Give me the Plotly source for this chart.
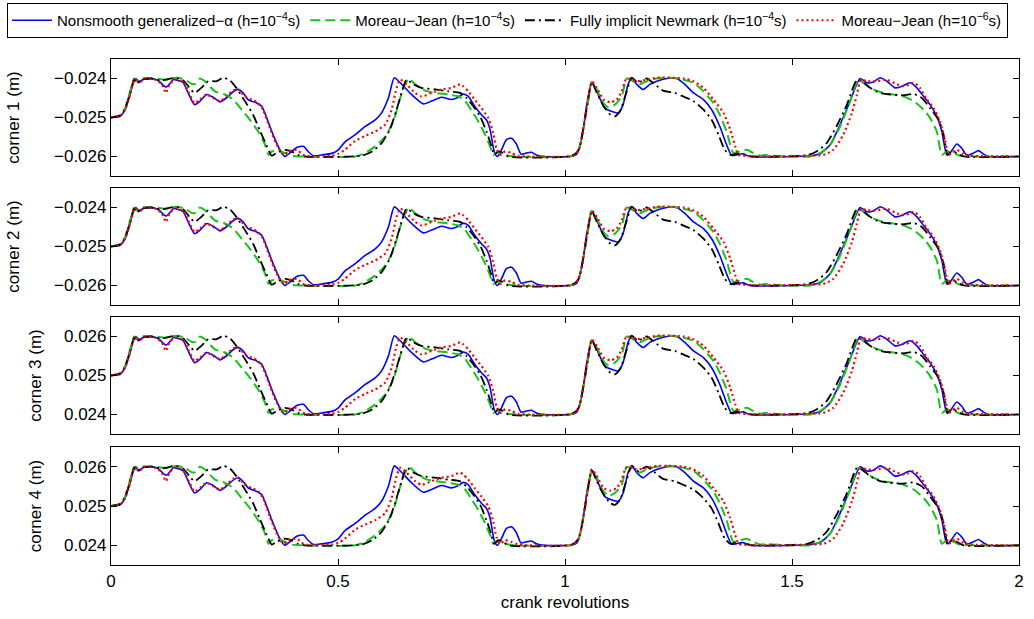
import plotly.graph_objects as go
from plotly.subplots import make_subplots

# ---------------- data (corner 1 displacement in m) ----------------
x_alpha = [0.000, 0.020, 0.031, 0.042, 0.051, 0.055, 0.060, 0.067, 0.075, 0.089, 0.104, 0.115, 0.122, 0.129,
           0.137, 0.148, 0.159, 0.170, 0.184, 0.196, 0.211, 0.225, 0.240, 0.254, 0.269, 0.280, 0.291, 0.302,
           0.321, 0.332, 0.343, 0.357, 0.372, 0.383, 0.394, 0.409, 0.424, 0.434, 0.446, 0.464, 0.486, 0.501,
           0.515, 0.538, 0.560, 0.582, 0.596, 0.611, 0.624, 0.637, 0.662, 0.688, 0.706, 0.728, 0.750, 0.765,
           0.776, 0.787, 0.801, 0.816, 0.827, 0.835, 0.844, 0.851, 0.860, 0.871, 0.882, 0.893, 0.903, 0.915,
           0.926, 0.937, 0.956, 1.011, 1.026, 1.037, 1.048, 1.059, 1.070, 1.088, 1.107, 1.118, 1.128, 1.139,
           1.147, 1.158, 1.172, 1.187, 1.202, 1.224, 1.246, 1.264, 1.283, 1.305, 1.323, 1.341, 1.356, 1.367,
           1.378, 1.392, 1.407, 1.540, 1.562, 1.584, 1.606, 1.628, 1.650, 1.665, 1.679, 1.694, 1.709, 1.727,
           1.742, 1.760, 1.775, 1.790, 1.804, 1.819, 1.830, 1.841, 1.848, 1.863, 1.874, 1.885, 1.900, 1.911,
           1.922, 1.933, 2.000]
c1_alpha = [-0.02500, -0.02497, -0.02480, -0.02441, -0.02405, -0.02400, -0.02411, -0.02405, -0.02401, -0.02400,
            -0.02405, -0.02417, -0.02422, -0.02414, -0.02403, -0.02405, -0.02411, -0.02437, -0.02467, -0.02458,
            -0.02441, -0.02448, -0.02460, -0.02450, -0.02434, -0.02428, -0.02437, -0.02454, -0.02463, -0.02471,
            -0.02501, -0.02544, -0.02583, -0.02600, -0.02591, -0.02577, -0.02574, -0.02587, -0.02598, -0.02596,
            -0.02592, -0.02583, -0.02563, -0.02544, -0.02523, -0.02506, -0.02488, -0.02450, -0.02398, -0.02411,
            -0.02441, -0.02465, -0.02458, -0.02448, -0.02454, -0.02448, -0.02440, -0.02446, -0.02471, -0.02493,
            -0.02506, -0.02531, -0.02587, -0.02600, -0.02583, -0.02557, -0.02553, -0.02568, -0.02594, -0.02591,
            -0.02589, -0.02596, -0.02600, -0.02600, -0.02594, -0.02553, -0.02467, -0.02409, -0.02433, -0.02476,
            -0.02486, -0.02488, -0.02467, -0.02415, -0.02398, -0.02415, -0.02428, -0.02415, -0.02407, -0.02400,
            -0.02400, -0.02415, -0.02437, -0.02454, -0.02480, -0.02523, -0.02570, -0.02597, -0.02596, -0.02593,
            -0.02600, -0.02598, -0.02593, -0.02570, -0.02518, -0.02458, -0.02400, -0.02411, -0.02409, -0.02398,
            -0.02407, -0.02424, -0.02420, -0.02411, -0.02424, -0.02446, -0.02467, -0.02497, -0.02536, -0.02596,
            -0.02591, -0.02568, -0.02579, -0.02597, -0.02591, -0.02585, -0.02594, -0.02600, -0.02600]

x_mj4 = [0.000, 0.020, 0.031, 0.042, 0.051, 0.055, 0.067, 0.097, 0.119, 0.145, 0.163, 0.178, 0.186, 0.196,
         0.207, 0.229, 0.251, 0.269, 0.288, 0.306, 0.324, 0.338, 0.347, 0.354, 0.369, 0.383, 0.398, 0.538,
         0.560, 0.582, 0.604, 0.622, 0.637, 0.648, 0.656, 0.670, 0.692, 0.714, 0.743, 0.765, 0.780, 0.795,
         0.809, 0.824, 0.835, 0.842, 0.849, 0.860, 0.875, 1.018, 1.030, 1.041, 1.052, 1.059, 1.070, 1.085,
         1.096, 1.110, 1.125, 1.136, 1.150, 1.165, 1.180, 1.202, 1.231, 1.261, 1.283, 1.305, 1.327, 1.341,
         1.356, 1.371, 1.386, 1.400, 1.415, 1.430, 1.444, 1.460, 1.540, 1.562, 1.584, 1.606, 1.628, 1.646,
         1.657, 1.679, 1.701, 1.723, 1.746, 1.768, 1.790, 1.804, 1.819, 1.830, 1.841, 1.856, 1.870, 2.000]
c1_mj4 = [-0.02500, -0.02494, -0.02476, -0.02433, -0.02400, -0.02407, -0.02400, -0.02400, -0.02403, -0.02398,
          -0.02403, -0.02414, -0.02414, -0.02400, -0.02407, -0.02433, -0.02441, -0.02454, -0.02480, -0.02506,
          -0.02536, -0.02566, -0.02596, -0.02587, -0.02585, -0.02591, -0.02598, -0.02600, -0.02591, -0.02574,
          -0.02549, -0.02510, -0.02450, -0.02415, -0.02400, -0.02415, -0.02431, -0.02437, -0.02441, -0.02446,
          -0.02458, -0.02484, -0.02510, -0.02544, -0.02574, -0.02596, -0.02590, -0.02591, -0.02598, -0.02598,
          -0.02583, -0.02527, -0.02450, -0.02409, -0.02428, -0.02463, -0.02474, -0.02467, -0.02446, -0.02400,
          -0.02407, -0.02415, -0.02407, -0.02400, -0.02398, -0.02403, -0.02411, -0.02433, -0.02463, -0.02493,
          -0.02536, -0.02591, -0.02587, -0.02583, -0.02591, -0.02598, -0.02596, -0.02598, -0.02600, -0.02591,
          -0.02570, -0.02523, -0.02458, -0.02403, -0.02411, -0.02428, -0.02437, -0.02441, -0.02446, -0.02458,
          -0.02480, -0.02501, -0.02536, -0.02596, -0.02587, -0.02591, -0.02598, -0.02600]

x_newmark = [0.000, 0.020, 0.031, 0.042, 0.051, 0.057, 0.067, 0.089, 0.108, 0.122, 0.141, 0.159, 0.173, 0.184,
             0.199, 0.214, 0.233, 0.247, 0.262, 0.276, 0.295, 0.313, 0.327, 0.342, 0.354, 0.365, 0.383, 0.398,
             0.412, 0.427, 0.552, 0.575, 0.596, 0.614, 0.629, 0.640, 0.651, 0.666, 0.684, 0.714, 0.743, 0.769,
             0.783, 0.798, 0.813, 0.827, 0.837, 0.844, 0.853, 0.864, 0.875, 1.015, 1.030, 1.041, 1.052, 1.059,
             1.070, 1.085, 1.100, 1.110, 1.121, 1.136, 1.147, 1.161, 1.180, 1.198, 1.216, 1.242, 1.260, 1.283,
             1.305, 1.323, 1.338, 1.352, 1.364, 1.378, 1.396, 1.415, 1.532, 1.554, 1.576, 1.598, 1.621, 1.643,
             1.654, 1.672, 1.694, 1.716, 1.746, 1.768, 1.786, 1.804, 1.823, 1.834, 1.843, 1.852, 1.863, 1.878,
             2.000]
c1_newmark = [-0.02500, -0.02495, -0.02477, -0.02437, -0.02403, -0.02411, -0.02403, -0.02400, -0.02405, -0.02403,
              -0.02398, -0.02405, -0.02424, -0.02437, -0.02424, -0.02407, -0.02407, -0.02398, -0.02405, -0.02424,
              -0.02458, -0.02493, -0.02531, -0.02570, -0.02598, -0.02591, -0.02583, -0.02587, -0.02596, -0.02600,
              -0.02598, -0.02587, -0.02566, -0.02531, -0.02480, -0.02437, -0.02403, -0.02415, -0.02424, -0.02428,
              -0.02433, -0.02437, -0.02450, -0.02471, -0.02497, -0.02536, -0.02570, -0.02596, -0.02587, -0.02591,
              -0.02600, -0.02598, -0.02583, -0.02523, -0.02446, -0.02409, -0.02437, -0.02471, -0.02493, -0.02497,
              -0.02484, -0.02433, -0.02398, -0.02411, -0.02400, -0.02415, -0.02431, -0.02437, -0.02446, -0.02458,
              -0.02480, -0.02506, -0.02544, -0.02583, -0.02596, -0.02593, -0.02596, -0.02600, -0.02597, -0.02587,
              -0.02566, -0.02523, -0.02467, -0.02403, -0.02407, -0.02424, -0.02437, -0.02441, -0.02443, -0.02440,
              -0.02450, -0.02476, -0.02506, -0.02544, -0.02596, -0.02587, -0.02591, -0.02600, -0.02600]

x_mj6 = [0.000, 0.020, 0.031, 0.042, 0.051, 0.056, 0.064, 0.075, 0.097, 0.112, 0.121, 0.129, 0.141, 0.159,
         0.170, 0.184, 0.196, 0.211, 0.225, 0.240, 0.254, 0.269, 0.280, 0.295, 0.310, 0.324, 0.335, 0.350,
         0.365, 0.380, 0.391, 0.409, 0.424, 0.442, 0.486, 0.501, 0.515, 0.538, 0.560, 0.582, 0.604, 0.618,
         0.629, 0.637, 0.651, 0.670, 0.684, 0.706, 0.728, 0.750, 0.769, 0.776, 0.787, 0.801, 0.816, 0.831,
         0.842, 0.849, 0.857, 0.868, 0.882, 0.896, 0.920, 1.018, 1.030, 1.041, 1.052, 1.059, 1.070, 1.085,
         1.100, 1.114, 1.125, 1.134, 1.143, 1.158, 1.180, 1.202, 1.231, 1.261, 1.283, 1.305, 1.327, 1.349,
         1.364, 1.375, 1.382, 1.393, 1.420, 1.540, 1.569, 1.591, 1.613, 1.632, 1.643, 1.652, 1.665, 1.687,
         1.709, 1.731, 1.749, 1.768, 1.782, 1.797, 1.812, 1.826, 1.836, 1.845, 1.852, 1.863, 1.878, 1.893,
         2.000]
c1_mj6 = [-0.02500, -0.02496, -0.02480, -0.02441, -0.02405, -0.02403, -0.02409, -0.02400, -0.02403, -0.02415,
          -0.02437, -0.02415, -0.02403, -0.02409, -0.02433, -0.02463, -0.02454, -0.02441, -0.02450, -0.02458,
          -0.02446, -0.02431, -0.02428, -0.02446, -0.02454, -0.02463, -0.02480, -0.02527, -0.02570, -0.02596,
          -0.02587, -0.02583, -0.02596, -0.02600, -0.02598, -0.02593, -0.02583, -0.02560, -0.02547, -0.02536,
          -0.02518, -0.02480, -0.02424, -0.02403, -0.02415, -0.02437, -0.02446, -0.02437, -0.02428, -0.02424,
          -0.02415, -0.02420, -0.02433, -0.02454, -0.02476, -0.02501, -0.02540, -0.02579, -0.02596, -0.02587,
          -0.02591, -0.02598, -0.02600, -0.02598, -0.02583, -0.02523, -0.02446, -0.02407, -0.02424, -0.02454,
          -0.02461, -0.02454, -0.02433, -0.02403, -0.02400, -0.02407, -0.02403, -0.02398, -0.02398, -0.02400,
          -0.02407, -0.02424, -0.02454, -0.02488, -0.02531, -0.02574, -0.02596, -0.02598, -0.02600, -0.02598,
          -0.02596, -0.02583, -0.02544, -0.02488, -0.02441, -0.02403, -0.02407, -0.02407, -0.02403, -0.02415,
          -0.02420, -0.02411, -0.02424, -0.02454, -0.02476, -0.02510, -0.02553, -0.02596, -0.02591, -0.02583,
          -0.02594, -0.02598, -0.02600]

# corners 1 and 2 read identical; corners 3 and 4 show the same curves, shifted to the +0.025 m level
corner_labels = ["corner 1 (m)", "corner 2 (m)", "corner 3 (m)", "corner 4 (m)"]
corner_offset = [0.0, 0.0, 0.050, 0.050]
x_ticks = [0, 0.5, 1, 1.5, 2]
x_ticktext = ["0", "0.5", "1", "1.5", "2"]
y_ticks_neg = [-0.026, -0.025, -0.024]
y_ticktext_neg = ["\u22120.026", "\u22120.025", "\u22120.024"]
y_ticks_pos = [0.024, 0.025, 0.026]
y_ticktext_pos = ["0.024", "0.025", "0.026"]

series = [
    ("Nonsmooth generalized\u2212\u03b1 (h=10<sup>\u22124</sup>s)", x_alpha, c1_alpha, "#0000ff", "solid", 1.6),
    ("Moreau\u2212Jean (h=10<sup>\u22124</sup>s)", x_mj4, c1_mj4, "#19c419", "10px,5px", 2.0),
    ("Fully implicit Newmark (h=10<sup>\u22124</sup>s)", x_newmark, c1_newmark, "#000000", "10px,4px,2px,4px", 1.8),
    ("Moreau\u2212Jean (h=10<sup>\u22126</sup>s)", x_mj6, c1_mj6, "#ff0000", "2px,3px", 2.2),
]

fig = make_subplots(rows=4, cols=1, shared_xaxes=True)

for r, (lab, off) in enumerate(zip(corner_labels, corner_offset), start=1):
    for name, xs, ys, col, dash, w in series:
        fig.add_trace(go.Scatter(
            x=xs, y=[v + off for v in ys], mode="lines", name=name,
            line=dict(color=col, dash=dash, width=w, shape="spline", smoothing=0.6),
            showlegend=(r == 1), legendgroup=name), row=r, col=1)

font = "Liberation Sans, Arial, Helvetica, sans-serif"
H0, H1 = 565, 59  # plot area bottom/top (px) for domain computation
panels_px = [(59, 176), (188, 305), (317, 434), (447, 565)]
for i, (top, bot) in enumerate(panels_px, start=1):
    dom = [(H0 - bot) / (H0 - H1), (H0 - top) / (H0 - H1)]
    pos = corner_offset[i - 1] > 0
    fig.update_yaxes(
        row=i, col=1, domain=dom, automargin=False,
        range=[0.0235, 0.0265] if pos else [-0.0265, -0.0235],
        tickvals=y_ticks_pos if pos else y_ticks_neg,
        ticktext=y_ticktext_pos if pos else y_ticktext_neg,
        title=dict(text=corner_labels[i - 1], standoff=18 if pos else 30,
                   font=dict(size=17, color="black", family=font)),
        showline=True, linecolor="black", linewidth=1.2, mirror="ticks",
        ticks="inside", ticklen=6, tickcolor="black", showgrid=False, zeroline=False,
        tickfont=dict(size=17, color="black", family=font))
    fig.update_xaxes(
        row=i, col=1, range=[0, 2], tickvals=x_ticks, ticktext=x_ticktext,
        showticklabels=(i == 4), automargin=False,
        showline=True, linecolor="black", linewidth=1.2, mirror="ticks",
        ticks="inside", ticklen=6, tickcolor="black", showgrid=False, zeroline=False,
        tickfont=dict(size=17, color="black", family=font))

fig.update_xaxes(row=4, col=1, title=dict(text="crank revolutions", standoff=6,
                                          font=dict(size=17, color="black", family=font)))

fig.update_layout(
    width=1034, height=619,
    margin=dict(l=111, r=15, t=59, b=54, autoexpand=False),
    paper_bgcolor="white", plot_bgcolor="white",
    font=dict(family=font, color="black"),
    legend=dict(orientation="h", x=(7 - 111) / 908, y=(H0 - 3) / (H0 - H1),
                xanchor="left", yanchor="top",
                bordercolor="black", borderwidth=1, bgcolor="white",
                font=dict(size=15, color="black", family=font),
                itemwidth=40, tracegroupgap=0),
)

fig.write_html("out.html", config={"displayModeBar": False},
               post_script="document.body.style.margin='0';document.body.style.overflow='hidden';")
